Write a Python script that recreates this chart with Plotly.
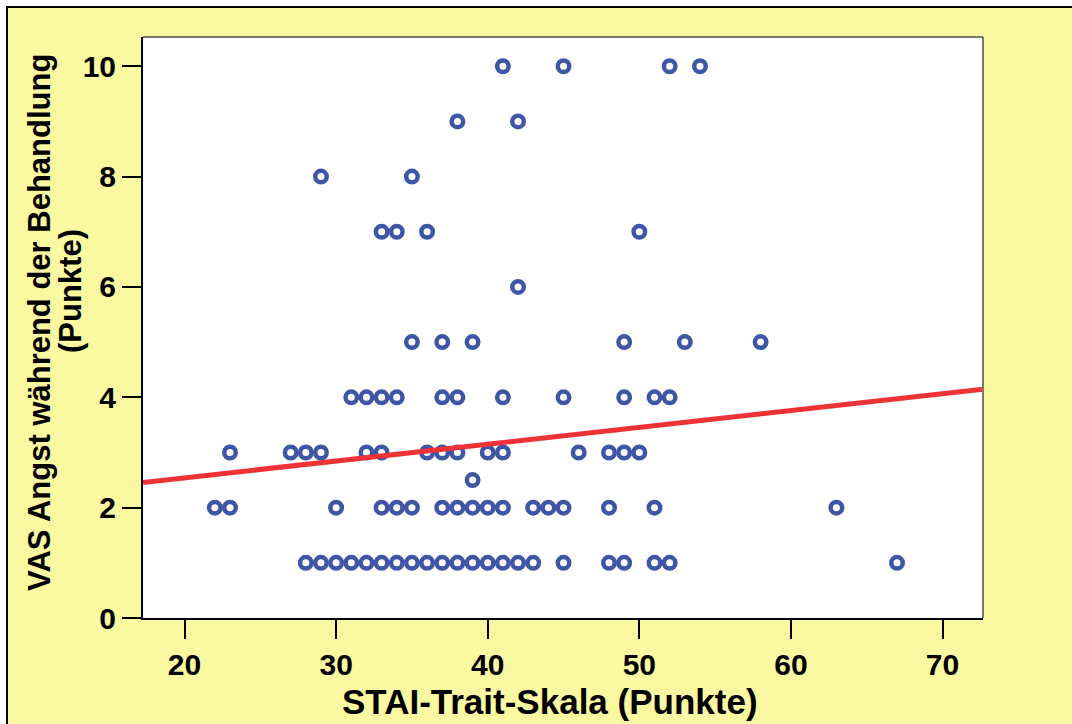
import plotly.graph_objects as go

# ---- data ----
stai_vas1 = [28, 29, 30, 31, 32, 33, 34, 35, 36, 37, 38, 39, 40, 41, 42, 43, 45, 48, 49, 51, 52, 67]
stai_vas2 = [22, 23, 30, 33, 34, 35, 37, 38, 39, 40, 41, 43, 44, 45, 48, 51, 63]
stai_vas2_5 = [39]
stai_vas3 = [23, 27, 28, 29, 32, 33, 36, 37, 38, 40, 41, 46, 48, 49, 50]
stai_vas4 = [31, 32, 33, 34, 37, 38, 41, 45, 49, 51, 52]
stai_vas5 = [35, 37, 39, 49, 53, 58]
stai_vas6 = [42]
stai_vas7 = [33, 34, 36, 50]
stai_vas8 = [29, 35]
stai_vas9 = [38, 42]
stai_vas10 = [41, 45, 52, 54]

vas_levels = [1, 2, 2.5, 3, 4, 5, 6, 7, 8, 9, 10]
stai_groups = [stai_vas1, stai_vas2, stai_vas2_5, stai_vas3, stai_vas4, stai_vas5,
               stai_vas6, stai_vas7, stai_vas8, stai_vas9, stai_vas10]

fit_intercept = 1.93
fit_slope = 0.0305

x_ticks = [20, 30, 40, 50, 60, 70]
y_ticks = [0, 2, 4, 6, 8, 10]
x_range = [17.26, 72.67]
y_range = [0, 10.53]

x_title = "STAI-Trait-Skala (Punkte)"
y_title_1 = "VAS Angst während der Behandlung"
y_title_2 = "(Punkte)"

# ---- build ----
xs, ys = [], []
for v, grp in zip(vas_levels, stai_groups):
    for s in grp:
        xs.append(s)
        ys.append(v)

W, H = 1072, 724
ML, MR, MT, MB = 143, 89, 37, 106
PW, PH = W - ML - MR, H - MT - MB


def px(x):
    return (x - ML) / PW


def py(y):
    return (H - MB - y) / PH


YELLOW = "#FAF8A0"
BLUE = "#3D56A6"
RED = "#EE3238"
FONT = "Liberation Sans"

fig = go.Figure()
fig.add_trace(go.Scatter(
    x=xs, y=ys, mode="markers",
    marker=dict(symbol="circle", size=11.5, color="white",
                line=dict(color=BLUE, width=4.5)),
    showlegend=False, hoverinfo="x+y"))

fx = x_range
fy = [fit_intercept + fit_slope * v for v in fx]
fig.add_trace(go.Scatter(x=fx, y=fy, mode="lines",
                         line=dict(color=RED, width=5), showlegend=False))

tickfont = dict(family=FONT, size=30, color="black", weight="bold")

fig.update_layout(
    width=W, height=H, autosize=False,
    margin=dict(l=ML, r=MR, t=MT, b=MB, pad=0),
    paper_bgcolor=YELLOW, plot_bgcolor="white",
    xaxis=dict(range=x_range, tickvals=x_ticks, ticks="outside", ticklen=19,
               tickwidth=2, tickcolor="black", showgrid=False, zeroline=False,
               showline=True, linecolor="black", linewidth=2, tickfont=tickfont),
    yaxis=dict(range=y_range, tickvals=y_ticks, ticks="outside", ticklen=19,
               tickwidth=2, tickcolor="black", showgrid=False, zeroline=False,
               showline=True, linecolor="black", linewidth=2, tickfont=tickfont),
    shapes=[
        # gray frame top/right
        dict(type="line", xref="paper", yref="paper", x0=0, x1=1, y0=1, y1=1,
             line=dict(color="#7a7a6a", width=2)),
        dict(type="line", xref="paper", yref="paper", x0=1, x1=1, y0=0, y1=1,
             line=dict(color="#7a7a6a", width=2)),
        # white margins outside the outer border
        dict(type="rect", xref="paper", yref="paper", x0=px(0), x1=px(W),
             y0=py(0), y1=py(7), fillcolor="white", line=dict(width=0)),
        dict(type="rect", xref="paper", yref="paper", x0=px(0), x1=px(7),
             y0=py(0), y1=py(H), fillcolor="white", line=dict(width=0)),
        # outer black border
        dict(type="line", xref="paper", yref="paper", x0=px(6), x1=px(W),
             y0=py(7), y1=py(7), line=dict(color="black", width=2)),
        dict(type="line", xref="paper", yref="paper", x0=px(7), x1=px(7),
             y0=py(7), y1=py(H), line=dict(color="black", width=2)),
    ],
    annotations=[
        dict(text=x_title, xref="paper", yref="paper", x=px(550), y=py(701),
             xanchor="center", yanchor="middle", showarrow=False,
             font=dict(family=FONT, size=35, color="black", weight="bold")),
        dict(text=y_title_1, xref="paper", yref="paper", x=px(39), y=py(323),
             xanchor="center", yanchor="middle", showarrow=False, textangle=-90,
             font=dict(family=FONT, size=31, color="black", weight="bold")),
        dict(text=y_title_2, xref="paper", yref="paper", x=px(70), y=py(291),
             xanchor="center", yanchor="middle", showarrow=False, textangle=-90,
             font=dict(family=FONT, size=31, color="black", weight="bold")),
    ],
)

fig.write_html("out.html")
